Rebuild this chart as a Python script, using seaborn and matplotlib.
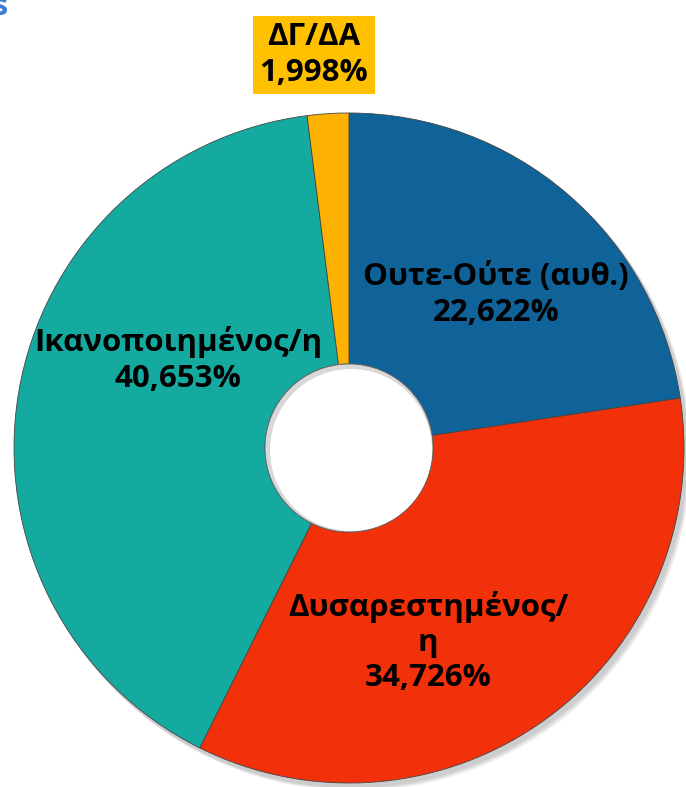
import matplotlib.pyplot as plt
from matplotlib.patches import Circle
import seaborn as sns

# satisfaction shares, clockwise from 12 o'clock
labels = ['Ουτε-Ούτε (αυθ.)', 'Δυσαρεστημένος/\nη', 'Ικανοποιημένος/η', 'ΔΓ/ΔΑ']
values = [22.622, 34.726, 40.653, 1.998]
colors = ['#0f6399', '#f2300a', '#14aaa0', '#fdb100']

sns.set_theme(style='white')
plt.rcParams['font.family'] = ['Open Sans', 'DejaVu Sans']

W, H = 686, 787
fig = plt.figure(figsize=(W / 100, H / 100), dpi=100)
ax = fig.add_axes([0, 0, 1, 1])

cx, cy, r, hole = 349, H - 448, 335, 84

# soft shadow behind the ring
for i in range(4):
    ax.add_patch(Circle((cx + 3 + i, cy - 4 - i), r + 1, color='black', alpha=0.05, lw=0, zorder=0))

wedges, _ = ax.pie(values, colors=colors, startangle=90, counterclock=False,
                   center=(cx, cy), radius=r,
                   wedgeprops=dict(width=r - hole, edgecolor='#444444', linewidth=0.6))

# white centre with a faint inner shadow
ax.add_patch(Circle((cx, cy), hole, fc='#d8d8d8', ec='#666666', lw=0.6, zorder=3))
ax.add_patch(Circle((cx + 2, cy - 2), hole - 3, fc='white', ec='none', zorder=4))

ax.set_xlim(0, W)
ax.set_ylim(0, H)
ax.set_aspect('equal')
ax.axis('off')

fmt = lambda v: f'{v:.3f}'.replace('.', ',') + '%'
txt = dict(fontsize=22.5, fontweight='bold', color='black', ha='center', va='center',
           linespacing=1.22, zorder=5)

ax.text(496, H - 295, labels[0] + '\n' + fmt(values[0]), **txt)
ax.text(428, H - 642, labels[1] + '\n' + fmt(values[1]), **txt)
ax.text(178, H - 360, labels[2] + '\n' + fmt(values[2]), **txt)
ax.text(314, H - 55, labels[3] + '\n' + fmt(values[3]),
        bbox=dict(boxstyle='square,pad=0.2', fc='#ffc000', ec='none'), **txt)

# clipped fragment of the slide title in the corner
ax.text(-7, H + 8, 's’', fontsize=22, fontweight='bold', color='#3a7fd5',
        ha='left', va='top')

fig.savefig('out.png', dpi=100)
